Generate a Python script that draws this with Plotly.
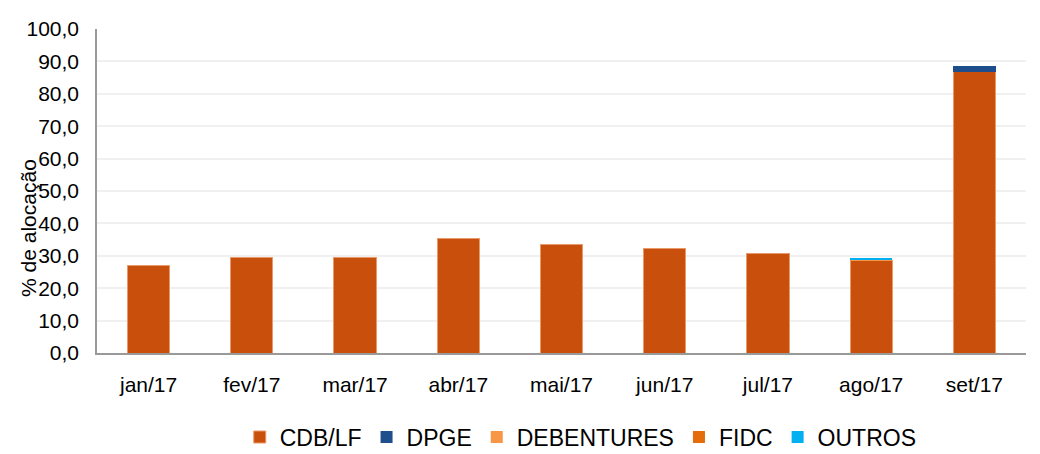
import plotly.graph_objects as go

months = ["jan/17", "fev/17", "mar/17", "abr/17", "mai/17", "jun/17", "jul/17", "ago/17", "set/17"]
cdb_lf = [26.9, 29.6, 29.6, 35.2, 33.6, 32.4, 30.6, 28.7, 86.8]
dpge = [0, 0, 0, 0, 0, 0, 0, 0, 1.9]
debentures = [0, 0, 0, 0, 0, 0, 0, 0.3, 0]
fidc = [0, 0, 0, 0, 0, 0, 0, 0, 0]
outros = [0, 0, 0, 0, 0, 0, 0, 0.3, 0]

series = [
    ("CDB/LF", cdb_lf, "#C9500C"),
    ("DPGE", dpge, "#1F4E8C"),
    ("DEBENTURES", debentures, "#F79646"),
    ("FIDC", fidc, "#E46C0A"),
    ("OUTROS", outros, "#00B0F0"),
]

fig = go.Figure()
for name, vals, color in series:
    line = dict(width=1, color="#E9996A") if name == "CDB/LF" else dict(width=0)
    fig.add_trace(go.Bar(x=months, y=vals, name=name, marker_color=color,
                         marker_line=line, width=0.41))

# The page body has an 8px default margin, so the figure is sized to fit the window.
fig.update_layout(
    barmode="stack",
    width=1032, height=446,
    margin=dict(l=89, r=14, t=21, b=101, autoexpand=False),
    plot_bgcolor="white", paper_bgcolor="white",
    separators=",.",
    font=dict(family="Liberation Sans, Arial, sans-serif", size=21, color="#000000"),
    legend=dict(orientation="h", x=0.555, xanchor="center", xref="container",
                y=0.038, yanchor="middle", yref="container",
                font=dict(size=23), itemwidth=30, traceorder="normal", tracegroupgap=0),
    showlegend=True,
    annotations=[dict(text="% de alocação", textangle=-90, xref="paper", yref="paper",
                      x=0, y=0.386, xanchor="center", yanchor="middle", xshift=-68,
                      showarrow=False, font=dict(size=21))],
)
fig.update_yaxes(range=[0, 100], dtick=10, tickformat=".1f", showgrid=True,
                 gridcolor="#F0F0F0", gridwidth=1.5, showline=True, linecolor="#9A9A9A",
                 linewidth=1.5, ticks="", automargin=False, ticklabelstandoff=12,
                 tickfont=dict(size=21), zeroline=False)
fig.update_xaxes(showline=True, linecolor="#9A9A9A", linewidth=2, ticks="",
                 automargin=False, ticklabelstandoff=12, tickfont=dict(size=21))

fig.write_html("out.html")
